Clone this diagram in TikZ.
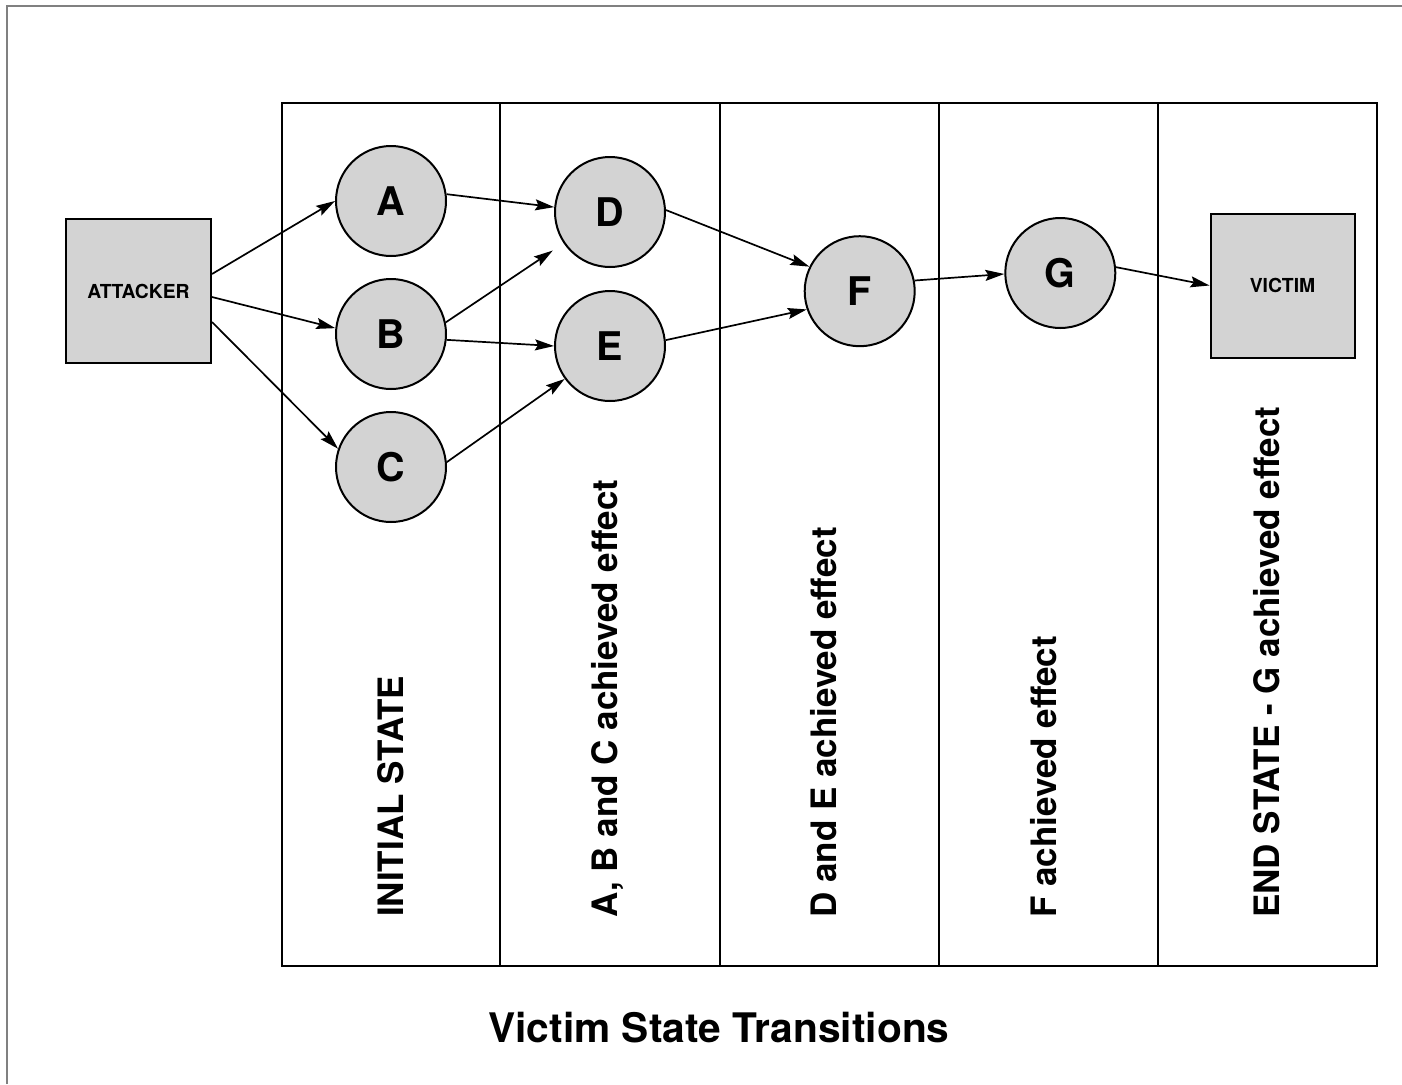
\documentclass[tikz,border=0pt]{standalone}
\usepackage{fontspec}
\setmainfont{TeX Gyre Heros}
\usetikzlibrary{arrows.meta}
\definecolor{nodefill}{RGB}{211,211,211}
\definecolor{framegray}{RGB}{128,128,128}
\begin{document}
\begin{tikzpicture}[x=1pt,y=-1pt,
  statecircle/.style={circle,draw=black,line width=2pt,fill=nodefill,minimum size=110pt,inner sep=0pt,
    font=\fontsize{39.5}{40}\selectfont\bfseries},
  actorbox/.style={rectangle,draw=black,line width=2pt,fill=nodefill,minimum width=145pt,minimum height=144pt,inner sep=0pt,
    font=\fontsize{19.3}{20}\selectfont\bfseries},
  collabel/.style={rotate=90,anchor=base west,inner sep=0pt,font=\fontsize{35}{36}\selectfont\bfseries},
  flow/.style={line width=1.7pt,-{Stealth[length=19pt,width=11pt,inset=3pt]}},
  colline/.style={line width=2pt,draw=black}]
\useasboundingbox (0,0) rectangle (1402,1084);
% page frame
\draw[framegray,line width=2pt] (7,1084) -- (7,6) -- (1402,6);
% columns
\draw[colline] (282,103) rectangle (1377,966);
\foreach \cx in {500,720,939,1158} \draw[colline] (\cx,103) -- (\cx,966);
% column labels
\node[collabel] (l1) at (403,917) {INITIAL STATE};
\node[collabel] (l2) at (617,918) {A, B and C achieved effect};
\node[collabel] (l3) at (836,918) {D and E achieved effect};
\node[collabel] (l4) at (1056,918) {F achieved effect};
\node[collabel] (l5) at (1279,918) {END STATE - G achieved effect};
% title
\node[anchor=base,inner sep=0pt,font=\fontsize{40.7}{42}\selectfont\bfseries] (title) at (719,1042) {Victim State Transitions};
% nodes
\node[actorbox] (att) at (138.5,291) {ATTACKER};
\node[actorbox,minimum width=144pt] (vic) at (1282.5,285.5) {VICTIM};
\node[statecircle] (A) at (391,201) {A};
\node[statecircle] (B) at (391,334) {B};
\node[statecircle] (C) at (391,467) {C};
\node[statecircle] (D) at (610,212) {D};
\node[statecircle] (E) at (610,346) {E};
\node[statecircle] (F) at (859.7,291.2) {F};
\node[statecircle] (G) at (1060.3,273) {G};
% connectors
\draw[flow] ([yshift=17pt]att.east) -- (A.180);
\draw[flow] ([yshift=-6pt]att.east) -- (B.174);
\draw[flow] ([yshift=-31pt]att.east) -- (C.161);
\draw[flow] (A.7) -- (D.175);
\draw[flow,shorten >=13pt] (B.12) -- (D.214);
\draw[flow] (B.-6) -- (E.180);
\draw[flow] (C.5) -- (E.216);
\draw[flow] (D.2) -- (F.154);
\draw[flow] (E.6) -- (F.199);
\draw[flow] (F.11) -- (G.181);
\draw[flow] (G.6) -- (vic.west);
\end{tikzpicture}
\end{document}
